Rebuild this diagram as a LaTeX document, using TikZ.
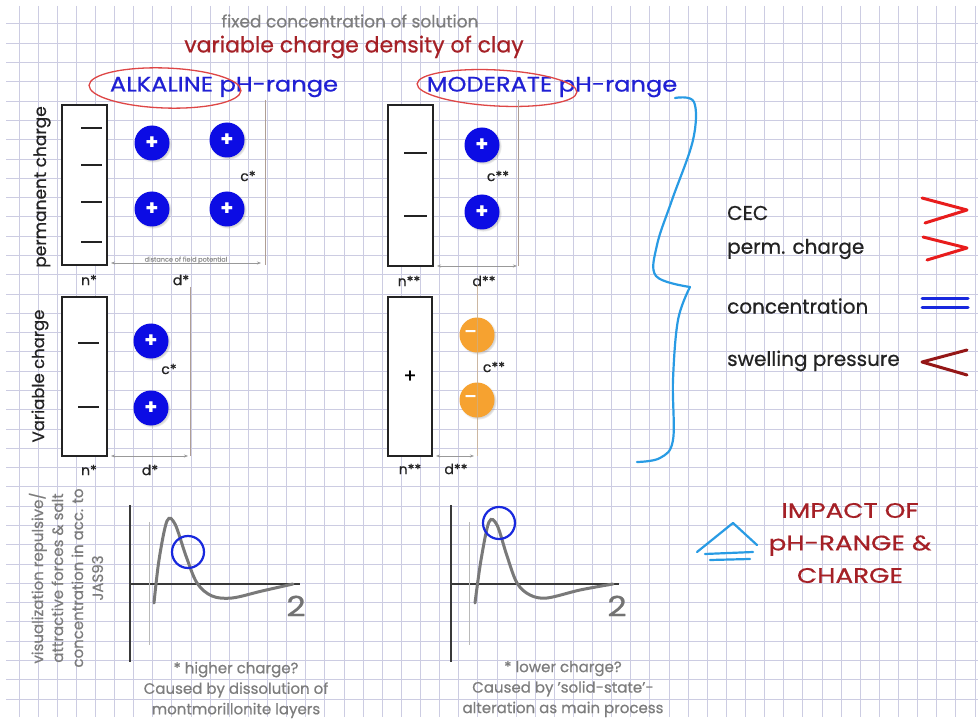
\documentclass[tikz,border=0pt]{standalone}
\usepackage{fontspec}
\setmainfont{Poppins}[UprightFeatures={FakeBold=0.6}]
\usetikzlibrary{arrows.meta,calc,shadows}
\definecolor{gridc}{RGB}{204,204,226}
\definecolor{ionblue}{RGB}{12,12,228}
\definecolor{ionorange}{RGB}{246,162,48}
\definecolor{titlered}{RGB}{165,32,38}
\definecolor{headblue}{RGB}{32,32,212}
\definecolor{ringred}{RGB}{222,70,70}
\definecolor{braceblue}{RGB}{40,155,228}
\definecolor{notegray}{RGB}{125,125,125}
\definecolor{symred}{RGB}{232,28,28}
\definecolor{symdark}{RGB}{148,22,22}
\definecolor{symblue}{RGB}{24,40,222}
\definecolor{inkc}{RGB}{35,35,35}
\definecolor{guide}{RGB}{175,158,148}
\definecolor{guidetan}{RGB}{205,175,135}
\newcommand{\widen}[2]{\scalebox{#1}[1]{#2}}
\begin{document}
\begin{tikzpicture}[x=1pt,y=-1pt,
  gridline/.style={draw=gridc,line width=1pt},
  plate/.style={draw=inkc,line width=1.3pt,fill=white,inner sep=0pt,minimum width=45pt},
  minusbar/.style={draw=inkc,line width=2.6pt},
  ion/.style={circle,inner sep=0pt,minimum size=35pt,text=white,
    font=\fontsize{21}{21}\selectfont\bfseries,
    circular drop shadow={shadow xshift=1.2pt,shadow yshift=-1.2pt,opacity=0.35,shadow scale=1.06}},
  cation/.style={ion,fill=ionblue},
  anion/.style={ion,fill=ionorange,font=\fontsize{24}{24}\selectfont},
  lbl/.style={text=inkc,font=\fontsize{14}{14}\selectfont,inner sep=1pt},
  guideline/.style={draw=guide,line width=0.7pt},
  dimarrow/.style={draw=gray!80,line width=0.6pt,{Stealth[length=4pt,width=3pt]}-{Stealth[length=4pt,width=3pt]}},
  sidetext/.style={text=inkc,rotate=90,font=\fontsize{17}{17}\selectfont},
  note/.style={text=notegray,font=\fontsize{15}{20.5}\selectfont,align=center},
  ring/.style={draw=ringred,line width=1.3pt},
  listtext/.style={text=inkc,font=\fontsize{20}{20}\selectfont,anchor=west,inner sep=0pt},
  symbol/.style={line width=3pt,line cap=round,line join=round},
  curve/.style={draw=gray!95!black,line width=3pt,line cap=round},
  axis/.style={draw=inkc!90,line width=1.6pt},
  faintaxis/.style={draw=gray!55,line width=1pt},
  handblue/.style={draw=braceblue,line width=2.2pt,line cap=round,line join=round}
]
\useasboundingbox (0,0) rectangle (978,722);
\fill[white] (0,0) rectangle (978,722);

% squared paper
\foreach \k in {0,...,50} \draw[gridline] ({19+19.12*\k},6) -- ({19+19.12*\k},717);
\foreach \k in {0,...,35} \draw[gridline] (6,{24+19.29*\k}) -- (978,{24+19.29*\k});

% headings
\node[text=notegray,font=\fontsize{17}{17}\selectfont] (fixed) at (350,21) {fixed concentration of solution};
\node[text=titlered,font=\fontsize{22}{22}\selectfont] (title) at (354,47) {variable charge density of clay};
\node[text=headblue,font=\fontsize{21}{21}\selectfont] (alk) at (224,87) {\widen{1.15}{ALKALINE pH-range}};
\node[text=headblue,font=\fontsize{21}{21}\selectfont] (mod) at (552,87) {\widen{1.15}{MODERATE pH-range}};
\draw[ring,rotate around={-2:(165,88)}] (165,88) ellipse [x radius=76,y radius=20];
\draw[ring,rotate around={-3:(497,88)}] (497,88) ellipse [x radius=80,y radius=18];

% ---------- permanent charge, alkaline ----------
\node[sidetext] (permlab) at (42,187) {permanent charge};
\node[plate,minimum height=160pt] (plA) at (84.5,185) {};
\foreach \y in {128,165,202,242} \draw[minusbar] (81,\y) -- (102,\y);
\node[cation] (a1) at (152,143) {+};
\node[cation] (a2) at (227,140) {+};
\node[cation] (a3) at (152,209) {+};
\node[cation] (a4) at (227,209) {+};
\node[lbl] (cA) at (248,176) {c*};
\coordinate (gA1) at (265,100);
\coordinate (gA2) at (265,265);
\draw[guideline] (gA1) -- (gA2);
\coordinate (dA1) at (111,263);
\coordinate (dA2) at (261,263);
\draw[dimarrow] (dA1) -- (dA2);
\node[text=gray!85,font=\fontsize{6.5}{6.5}\selectfont,inner sep=0pt] (distlab) at (186,260) {distance of field potential};
\node[lbl] (nA) at (89,280) {n*};
\node[lbl] (dA) at (181,280) {d*};

% ---------- permanent charge, moderate ----------
\node[plate,minimum height=161pt] (plB) at (410.5,185.5) {};
\foreach \y in {153,216} \draw[minusbar] (404,\y) -- (427,\y);
\node[cation] (b1) at (482,145) {+};
\node[cation] (b2) at (482,212) {+};
\node[lbl] (cB) at (498,176) {c**};
\coordinate (gB1) at (518,100);
\coordinate (gB2) at (518,266);
\draw[guideline] (gB1) -- (gB2);
\coordinate (dB1) at (437,266);
\coordinate (dB2) at (517,266);
\draw[dimarrow] (dB1) -- (dB2);
\node[lbl] (nB) at (409,281) {n**};
\node[lbl] (dB) at (484,281) {d**};

% ---------- variable charge, alkaline ----------
\node[sidetext,font=\fontsize{16.5}{16.5}\selectfont] (varlab) at (40,376) {Variable charge};
\node[plate,minimum height=159pt] (plC) at (84.5,376.5) {};
\foreach \y in {343,407} \draw[minusbar] (78,\y) -- (99,\y);
\node[cation] (c1) at (151,341) {+};
\node[cation] (c2) at (151,408) {+};
\node[lbl] (cC) at (169,369) {c*};
\coordinate (gC1) at (190,287);
\coordinate (gC2) at (190,456);
\draw[guideline] (gC1) -- (gC2);
\coordinate (dC1) at (111,456);
\coordinate (dC2) at (188,456);
\draw[dimarrow] (dC1) -- (dC2);
\node[lbl] (nC) at (89,470) {n*};
\node[lbl] (dC) at (150,470) {d*};

% ---------- variable charge, moderate ----------
\node[plate,minimum width=44pt,minimum height=159pt,font=\fontsize{19}{19}\selectfont] (plD) at (410,376.5) {+};
\coordinate (gD1) at (477,285);
\coordinate (gD2) at (477,456);
\node[anion] (o1) at (477,335) {\kern-12pt-};
\node[anion] (o2) at (477,400) {\kern-12pt-};
\draw[draw=guidetan,line width=0.8pt,opacity=0.7] (gD1) -- (gD2);
\node[lbl] (cD) at (494,367) {c**};
\coordinate (dD1) at (436,456);
\coordinate (dD2) at (474,456);
\draw[dimarrow] (dD1) -- (dD2);
\node[lbl] (nD) at (410,469) {n**};
\node[lbl] (dD) at (456,469) {d**};

% curly brace grouping the four cases
\draw[handblue] plot[smooth,tension=0.6] coordinates {(675,98) (694,102) (693,140) (672,200) (657,245) (656,276) (690,287)};
\draw[handblue] plot[smooth,tension=0.6] coordinates {(690,287) (678,320) (673,380) (673,440) (660,458) (637,462)};

% comparison list
\node[listtext] (cec) at (727,213) {CEC};
\node[listtext] (perm) at (727,249) {perm. charge};
\node[listtext] (conc) at (727,306) {concentration};
\node[listtext] (swell) at (727,361) {swelling pressure};
\draw[symbol,draw=symred] (922,198) -- (967,210) -- (925,223);
\draw[symbol,draw=symred] (923,237) -- (967,248) -- (927,260);
\draw[symbol,draw=symblue] (922,299) -- (968,299);
\draw[symbol,draw=symblue] (922,308) -- (968,308);
\draw[symbol,draw=symdark] (967,350) -- (922,362) -- (967,375);

% interaction energy sketches
\node[note,rotate=90,font=\fontsize{15}{20}\selectfont] (vislab) at (66,578) {visualization repulsive/\\attractive forces \& salt\\concentration in acc. to\\JAS93};

\coordinate (ax1top) at (130,505);
\coordinate (ax1bot) at (130,662);
\coordinate (ax1o) at (130,584);
\coordinate (ax1end) at (300,584);
\draw[axis] (ax1top) -- (ax1bot);
\draw[axis] (ax1o) -- (ax1end);
\draw[faintaxis] (149,522) -- (149,645);
\draw[curve] plot[smooth,tension=0.55] coordinates {(154,603) (159,560) (167,521) (175,524) (186,556) (197,583) (212,596) (232,598) (262,591) (293,584)};
\node[draw=symblue,line width=2.2pt,circle,minimum size=32pt,inner sep=0pt] (mk1) at (188,552) {};
\node[text=gray!90!black,font=\fontsize{28}{28}\selectfont] (two1) at (296,606) {\widen{1.2}{2}};
\node[note] (note1) at (236,690) {* higher charge?\\Caused by dissolution of\\montmorillonite layers};

\coordinate (ax2top) at (451,505);
\coordinate (ax2bot) at (451,662);
\coordinate (ax2o) at (451,584);
\coordinate (ax2end) at (619,584);
\draw[axis] (ax2top) -- (ax2bot);
\draw[axis] (ax2o) -- (ax2end);
\draw[faintaxis] (469,522) -- (469,645);
\draw[curve] plot[smooth,tension=0.55] coordinates {(475,603) (481,560) (489,522) (497,525) (507,556) (517,583) (530,595) (547,598) (580,590) (613,584)};
\node[draw=symblue,line width=2.2pt,circle,minimum size=32pt,inner sep=0pt] (mk2) at (499,523) {};
\node[text=gray!90!black,font=\fontsize{28}{28}\selectfont] (two2) at (617,606) {\widen{1.2}{2}};
\node[note] (note2) at (563,689) {* lower charge?\\Caused by 'solid-state'-\\alteration as main process};

% conclusion
\draw[handblue] (697,552) -- (733,523) -- (757,545);
\draw[handblue] (705,554) -- (753,552);
\draw[handblue] (710,560) -- (750,559);
\node[text=titlered,font=\fontsize{21}{32.5}\selectfont,align=center] (impact) at (850,543) {\widen{1.25}{IMPACT OF}\\\widen{1.25}{pH-RANGE \&}\\\widen{1.25}{CHARGE}};

\end{tikzpicture}
\end{document}
